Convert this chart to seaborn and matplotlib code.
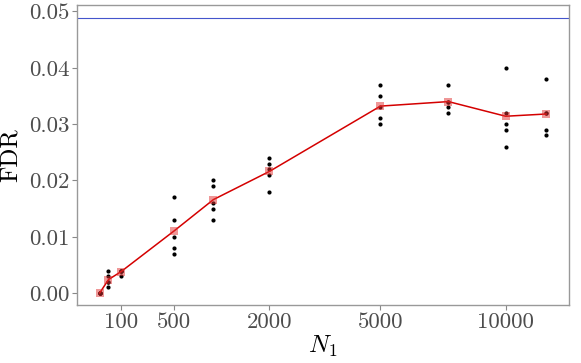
import numpy as np
import pandas as pd
import matplotlib
matplotlib.use("Agg")
import matplotlib.pyplot as plt
import seaborn as sns

# ---- data ----
n1_levels = [25, 50, 100, 500, 1000, 2000, 5000, 7500, 10000, 12000]
fdr_reps = [
    [0.000, 0.000, 0.000, 0.000, 0.000],
    [0.004, 0.003, 0.002, 0.002, 0.001],
    [0.004, 0.004, 0.004, 0.004, 0.003],
    [0.017, 0.013, 0.010, 0.008, 0.007],
    [0.020, 0.019, 0.016, 0.015, 0.013],
    [0.024, 0.023, 0.022, 0.021, 0.018],
    [0.037, 0.035, 0.033, 0.031, 0.030],
    [0.037, 0.034, 0.034, 0.033, 0.032],
    [0.040, 0.032, 0.030, 0.029, 0.026],
    [0.038, 0.032, 0.032, 0.029, 0.028],
]
x_ticks = [100, 500, 2000, 5000, 10000]
y_ticks = [0.00, 0.01, 0.02, 0.03, 0.04, 0.05]
target_level = 0.04876

rows = []
for n, reps in zip(n1_levels, fdr_reps):
    for v in reps:
        rows.append({"N1": n, "FDR": v})
df = pd.DataFrame(rows)
means = df.groupby("N1", as_index=False)["FDR"].mean()

sns.set_theme(style="white")
plt.rcParams["font.family"] = ["cmr10", "DejaVu Serif"]
plt.rcParams["mathtext.fontset"] = "cm"
plt.rcParams["axes.formatter.use_mathtext"] = True

fig = plt.figure(figsize=(5.81, 3.63), dpi=100)
ax = fig.add_axes([0.133, 0.160, 0.846, 0.827])

def fwd(x):
    x = np.asarray(x, dtype=float)
    return np.sign(x) * np.sqrt(np.abs(x))

def inv(x):
    x = np.asarray(x, dtype=float)
    return np.sign(x) * x ** 2

ax.set_xscale("function", functions=(fwd, inv))

sns.scatterplot(data=df, x="N1", y="FDR", ax=ax, color="black", s=9,
                linewidth=0, zorder=3)
sns.lineplot(data=means, x="N1", y="FDR", ax=ax, color="#d40000",
             linewidth=1.1, zorder=4)
sns.scatterplot(data=means, x="N1", y="FDR", ax=ax, color="#e03030",
                marker="s", s=40, alpha=0.5, linewidth=0, zorder=5)
ax.axhline(target_level, color="#4455cc", linewidth=0.8, zorder=2)

lo, hi = fwd(min(n1_levels)), fwd(max(n1_levels))
pad = 0.05 * (hi - lo)
ax.set_xlim(inv(lo - pad), inv(hi + pad))
ax.set_ylim(-0.0021, 0.0512)

ax.set_xticks(x_ticks)
ax.set_xticklabels([str(t) for t in x_ticks])
ax.set_yticks(y_ticks)
ax.set_yticklabels([f"{t:.2f}" for t in y_ticks])
ax.minorticks_off()

ax.tick_params(axis="both", which="major", length=3.5, width=0.8,
               color="#888888", labelcolor="#4d4d4d", labelsize=16.5,
               direction="out", bottom=True, left=True, pad=2)
for sp in ax.spines.values():
    sp.set_color("#999999")
    sp.set_linewidth(1.0)

ax.set_xlabel(r"$N_1$", fontsize=18, labelpad=1, color="black")
ax.set_ylabel("FDR", fontsize=18, labelpad=5, color="black")
ax.grid(False)

fig.savefig("out.png", dpi=100)
